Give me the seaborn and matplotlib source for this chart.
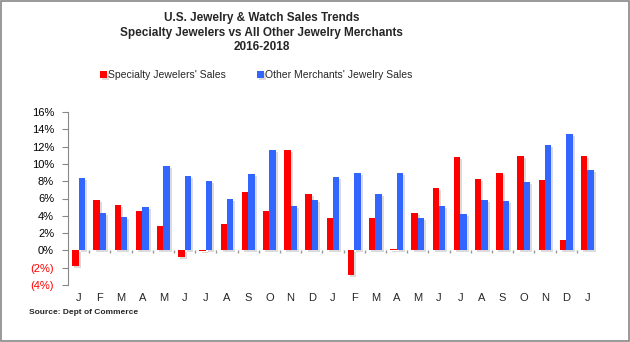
import matplotlib
matplotlib.use("Agg")
import matplotlib.pyplot as plt
import matplotlib.patheffects as pe
from matplotlib.patches import Rectangle
from matplotlib.ticker import FixedLocator, FuncFormatter
import seaborn as sns
import pandas as pd

months = ["J", "F", "M", "A", "M", "J", "J", "A", "S", "O", "N", "D",
          "J", "F", "M", "A", "M", "J", "J", "A", "S", "O", "N", "D", "J"]
specialty = [-1.8, 5.8, 5.3, 4.6, 2.8, -0.8, -0.1, 3.0, 6.8, 4.5, 11.6, 6.5,
             3.8, -2.8, 3.8, 0.2, 4.3, 7.2, 10.8, 8.3, 8.9, 10.9, 8.1, 1.15, 10.9]
other = [8.4, 4.3, 3.85, 5.0, 9.8, 8.6, 8.0, 6.0, 8.8, 11.6, 5.1, 5.8,
         8.45, 9.0, 6.5, 9.0, 3.7, 5.1, 4.2, 5.8, 5.7, 7.9, 12.2, 13.5, 9.3]
series_names = ["Specialty Jewelers' Sales", "Other Merchants' Jewelry Sales"]
colors = ["#FF0000", "#3366FF"]
yticks = [-4, -2, 0, 2, 4, 6, 8, 10, 12, 14, 16]

n = len(months)
df = pd.DataFrame({
    "idx": list(range(n)) * 2,
    "value": specialty + other,
    "series": [series_names[0]] * n + [series_names[1]] * n,
})

sns.set_theme(style="white")
plt.rcParams["font.family"] = ["Liberation Sans", "DejaVu Sans"]

fig = plt.figure(figsize=(6.3, 3.42), dpi=100)
ax = fig.add_axes([68 / 630, 1 - 285 / 342, (598 - 68) / 630, (285 - 112) / 342])

sns.barplot(data=df, x="idx", y="value", hue="series", hue_order=series_names,
            palette=colors, width=0.6, saturation=1, ax=ax, legend=True,
            errorbar=None, linewidth=0)

for p in ax.patches:
    p.set_path_effects([pe.SimplePatchShadow(offset=(1.5, -1.5), shadow_rgbFace="#999999", alpha=0.35),
                        pe.Normal()])

ax.set_ylim(-4, 16)
ax.set_xlim(-0.5, n - 0.5)
ax.set_yticks(yticks)
ax.yaxis.set_major_formatter(FuncFormatter(lambda v, p: f"({abs(v):.0f}%)" if v < 0 else f"{v:.0f}%"))
ax.tick_params(axis="y", direction="out", length=4, width=0.8, color="#888888",
               labelsize=8, pad=6, left=True)
for lab in ax.get_yticklabels():
    lab.set_color("#FF0000" if "(" in lab.get_text() else "black")

ax.set_xticks(range(n))
ax.set_xticklabels(months)
ax.tick_params(axis="x", length=0, labelsize=8, pad=6)
ax.set_xlabel("")
ax.set_ylabel("")

for s in ["top", "right", "bottom"]:
    ax.spines[s].set_visible(False)
ax.spines["left"].set_color("#888888")
ax.spines["left"].set_linewidth(0.8)

sec = ax.secondary_xaxis(0.2)
sec.spines["bottom"].set_visible(False)
sec.xaxis.set_major_locator(FixedLocator([i + 0.5 for i in range(n - 1)]))
sec.tick_params(axis="x", direction="out", length=2.5, width=1, color="#999999", labelbottom=False)

handles, labels = ax.get_legend_handles_labels()
ax.get_legend().remove()
fig.legend(handles, labels, loc="center", bbox_to_anchor=(0.407, 1 - 75 / 342), ncol=2,
           frameon=False, fontsize=7.5, handlelength=0.6, handleheight=0.6,
           handletextpad=0.15, columnspacing=3.0)

title_font = ["Liberation Sans", "DejaVu Sans"]
fig.text(0.415, 1 - 18 / 342, "U.S. Jewelry & Watch Sales Trends", ha="center", va="center",
         fontsize=8.5, fontweight="bold", family=title_font)
fig.text(0.415, 1 - 33 / 342, "Specialty Jewelers vs All Other Jewelry Merchants", ha="center",
         va="center", fontsize=8.5, fontweight="bold", family=title_font)
fig.text(0.415, 1 - 47 / 342, "2016-2018", ha="center", va="center",
         fontsize=8.5, fontweight="bold", family=title_font)
fig.text(29 / 630, 1 - 312 / 342, "Source: Dept of Commerce", ha="left", va="center",
         fontsize=6, fontweight="bold", family=title_font)

fig.patches.append(Rectangle((0.002, 0.003), 0.996, 0.994, transform=fig.transFigure,
                             fill=False, edgecolor="#888888", linewidth=1.2))

fig.savefig("out.png", dpi=100)
